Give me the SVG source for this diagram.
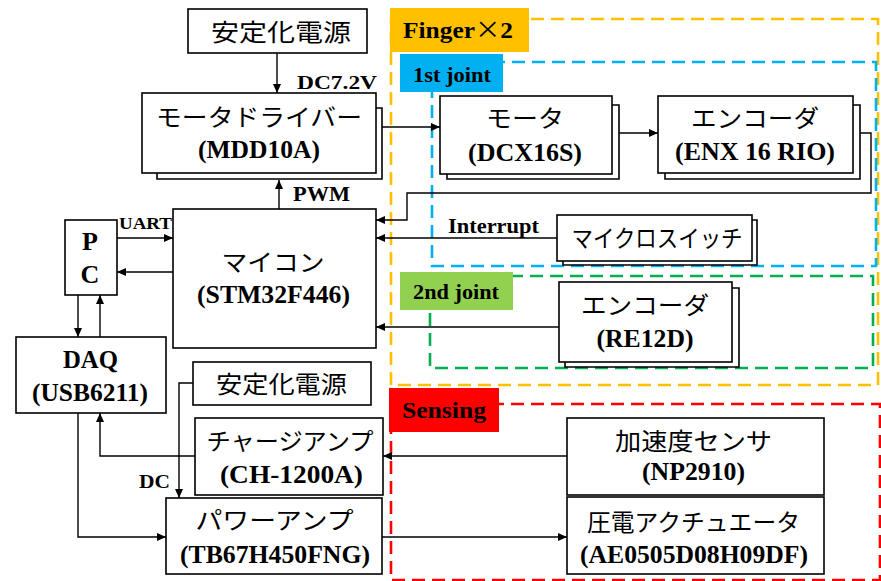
<svg xmlns="http://www.w3.org/2000/svg" width="881" height="581" viewBox="0 0 881 581">
<defs>
<marker id="ah" markerUnits="userSpaceOnUse" markerWidth="10" markerHeight="9" refX="9" refY="4" orient="auto">
<path d="M0,0 L9,4 L0,8 z" fill="#000"/>
</marker>
<style>
.box{fill:#fff;stroke:#000;stroke-width:1.6}
.sh{fill:none;stroke:#000;stroke-width:1.6}
.jp{font-family:"Noto Sans CJK JP","Noto Sans",sans-serif;font-size:24px;text-anchor:middle;fill:#000}
.en{font-family:"Liberation Serif","Times New Roman",serif;font-weight:bold;font-size:26px;text-anchor:middle;fill:#000}
.lb{font-family:"Liberation Serif","Times New Roman",serif;font-weight:bold;fill:#000}
.con{fill:none;stroke:#000;stroke-width:1.4;marker-end:url(#ah)}
.dash{fill:none;stroke-width:2.6;stroke-dasharray:13 7}
</style>
</defs>
<rect width="881" height="581" fill="#fff"/>

<g id="groups">
<rect class="dash" x="391" y="19" width="487" height="366" stroke="#FFC000"/>
<rect class="dash" x="432" y="62" width="444" height="204" stroke="#00B0F0"/>
<rect class="dash" x="430" y="276" width="443" height="92" stroke="#00B050"/>
<rect class="dash" x="391" y="404" width="489" height="176" stroke="#FF0000"/>
<rect x="390" y="8" width="139" height="44" fill="#FFC000"/>
<text class="lb" x="403" y="38" font-size="24" textLength="110" lengthAdjust="spacingAndGlyphs">Finger<tspan font-family="Noto Sans CJK JP, sans-serif" font-weight="normal">×</tspan>2</text>
<rect x="400" y="54" width="103" height="38" fill="#00B0F0"/>
<text class="lb" x="413" y="82" font-size="21" textLength="78" lengthAdjust="spacingAndGlyphs">1st joint</text>
<rect x="400" y="272" width="113" height="38" fill="#92D050"/>
<text class="lb" x="413" y="299" font-size="21" textLength="86" lengthAdjust="spacingAndGlyphs">2nd joint</text>
<rect x="389" y="388" width="110" height="44" fill="#FF0000"/>
<text class="lb" x="402" y="418" font-size="24" textLength="84" lengthAdjust="spacingAndGlyphs">Sensing</text>
</g>

<g id="connectors">
<path class="con" d="M277,53 V93"/>
<path class="con" d="M382,127 H440"/>
<path class="con" d="M619,133 H658"/>
<path class="con" d="M860,133 H871 V193 H407 V220 H376"/>
<path class="con" d="M557,238 H376"/>
<path class="con" d="M559,327 H376"/>
<path class="con" d="M279,209 V180"/>
<path class="con" d="M117,238 H173"/>
<path class="con" d="M173,272 H117"/>
<path class="con" d="M78,295 V337"/>
<path class="con" d="M100,337 V295"/>
<path class="con" d="M193,383 H179 V498"/>
<path class="con" d="M195,456 H100 V413"/>
<path class="con" d="M567,456 H383"/>
<path class="con" d="M78,413 V537 H166"/>
<path class="con" d="M382,537 H567"/>
<text class="lb" x="297" y="89" font-size="19" textLength="80" lengthAdjust="spacingAndGlyphs">DC7.2V</text>
<text class="lb" x="293" y="201" font-size="20" textLength="57" lengthAdjust="spacingAndGlyphs">PWM</text>
<text class="lb" x="119" y="229" font-size="17" textLength="53" lengthAdjust="spacingAndGlyphs">UART</text>
<text class="lb" x="448" y="233" font-size="21" textLength="91" lengthAdjust="spacingAndGlyphs">Interrupt</text>
<text class="lb" x="139" y="488" font-size="19" textLength="31" lengthAdjust="spacingAndGlyphs">DC</text>
</g>

<g id="psu1">
<rect class="box" x="188" y="9" width="179" height="44"/>
<text class="jp" x="281" y="41" textLength="140" lengthAdjust="spacingAndGlyphs">安定化電源</text>
</g>

<g id="driver">
<path class="sh" d="M157,173 V179 H382 V108 H376"/>
<rect class="box" x="142" y="93" width="234" height="80"/>
<text class="jp" x="259" y="126" textLength="206" lengthAdjust="spacingAndGlyphs">モータドライバー</text>
<text class="en" x="259" y="158" textLength="122" lengthAdjust="spacingAndGlyphs">(MDD10A)</text>
</g>

<g id="motor">
<path class="sh" d="M447,174 V179 H619 V105 H612"/>
<rect class="box" x="440" y="96" width="172" height="78"/>
<text class="jp" x="525" y="127" textLength="78" lengthAdjust="spacingAndGlyphs">モータ</text>
<text class="en" x="525" y="161" textLength="114" lengthAdjust="spacingAndGlyphs">(DCX16S)</text>
</g>

<g id="encoder1">
<path class="sh" d="M665,173 V179 H860 V105 H853"/>
<rect class="box" x="658" y="96" width="195" height="77"/>
<text class="jp" x="755" y="127" textLength="128" lengthAdjust="spacingAndGlyphs">エンコーダ</text>
<text class="en" x="755" y="160" textLength="160" lengthAdjust="spacingAndGlyphs">(ENX 16 RIO)</text>
</g>

<g id="mcu">
<rect class="box" x="173" y="209" width="203" height="139"/>
<text class="jp" x="273" y="271" textLength="103" lengthAdjust="spacingAndGlyphs">マイコン</text>
<text class="en" x="273.5" y="303" textLength="153" lengthAdjust="spacingAndGlyphs">(STM32F446)</text>
</g>

<g id="pc">
<rect class="box" x="65" y="220" width="52" height="75"/>
<text class="en" x="90" y="250">P</text>
<text class="en" x="90" y="283">C</text>
</g>

<g id="microswitch">
<path class="sh" d="M563,261 V265 H757 V220 H752"/>
<rect class="box" x="557" y="215" width="195" height="46"/>
<text class="jp" x="657" y="247" textLength="171" lengthAdjust="spacingAndGlyphs">マイクロスイッチ</text>
</g>

<g id="encoder2">
<path class="sh" d="M565,362 V367 H739 V288 H732"/>
<rect class="box" x="559" y="282" width="173" height="80"/>
<text class="jp" x="645" y="314" textLength="128" lengthAdjust="spacingAndGlyphs">エンコーダ</text>
<text class="en" x="645" y="347" textLength="97" lengthAdjust="spacingAndGlyphs">(RE12D)</text>
</g>

<g id="daq">
<rect class="box" x="16" y="337" width="150" height="76"/>
<text class="en" x="90.5" y="368" textLength="55" lengthAdjust="spacingAndGlyphs">DAQ</text>
<text class="en" x="90" y="401" textLength="116" lengthAdjust="spacingAndGlyphs">(USB6211)</text>
</g>

<g id="psu2">
<rect class="box" x="193" y="362" width="178" height="43"/>
<text class="jp" x="281.5" y="393" textLength="131" lengthAdjust="spacingAndGlyphs">安定化電源</text>
</g>

<g id="chargeamp">
<rect class="box" x="195" y="418" width="188" height="77"/>
<text class="jp" x="290" y="450" textLength="167" lengthAdjust="spacingAndGlyphs">チャージアンプ</text>
<text class="en" x="291.5" y="483" textLength="143" lengthAdjust="spacingAndGlyphs">(CH-1200A)</text>
</g>

<g id="poweramp">
<rect class="box" x="166" y="498" width="216" height="76"/>
<text class="jp" x="274.5" y="529" textLength="158" lengthAdjust="spacingAndGlyphs">パワーアンプ</text>
<text class="en" x="275" y="563" textLength="190" lengthAdjust="spacingAndGlyphs">(TB67H450FNG)</text>
</g>

<g id="accel">
<rect class="box" x="567" y="418" width="257" height="77"/>
<text class="jp" x="693.5" y="450" textLength="157" lengthAdjust="spacingAndGlyphs">加速度センサ</text>
<text class="en" x="693.5" y="480" textLength="103" lengthAdjust="spacingAndGlyphs">(NP2910)</text>
</g>

<g id="piezo">
<rect class="box" x="567" y="497" width="257" height="77"/>
<text class="jp" x="693.5" y="531" textLength="213" lengthAdjust="spacingAndGlyphs">圧電アクチュエータ</text>
<text class="en" x="694" y="563" textLength="228" lengthAdjust="spacingAndGlyphs">(AE0505D08H09DF)</text>
</g>
</svg>
